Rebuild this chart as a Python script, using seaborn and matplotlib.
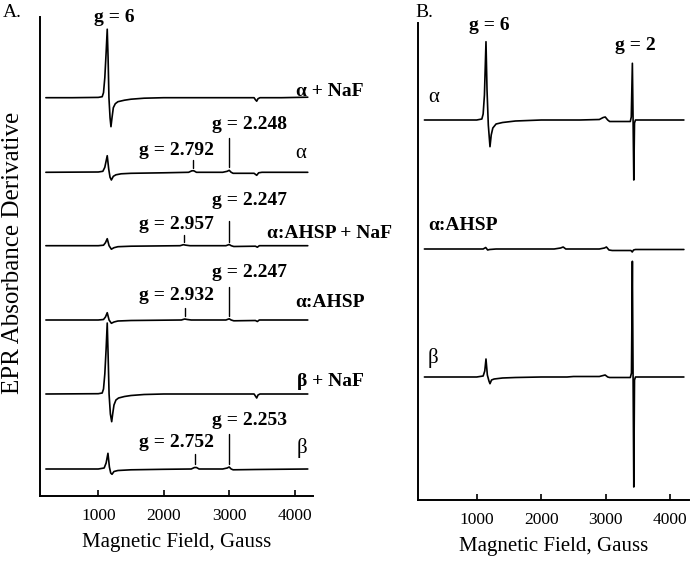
import numpy as np
import pandas as pd
import matplotlib
matplotlib.use("Agg")
import matplotlib.pyplot as plt
import seaborn as sns

# ---------------- data (field in Gauss, derivative amplitude in arbitrary units) -------------
# Panel A traces
a_names = ["α + NaF", "α", "α:AHSP + NaF", "α:AHSP", "β + NaF", "β"]

a1_field = [200, 600, 1000, 1060, 1080, 1100, 1120, 1137, 1150, 1163, 1180, 1194, 1210, 1230, 1260,
            1300, 1400, 1500, 1700, 2000, 2600, 3000, 3380, 3400, 3420, 3440, 3470, 3800, 4200]
a1_val = [0, 0, 0.3, 1, 5, 20, 45, 68.5, 40, 0, -20, -29, -20, -10, -6,
          -4, -2.5, -1.5, -0.5, 0, 0, 0, 0, -2, -3.5, -1, 0, 0, 0.5]

a2_field = [200, 1000, 1070, 1100, 1137, 1160, 1180, 1200, 1230, 1270, 1350, 1500, 2000, 2380, 2430,
            2460, 2500, 2900, 2970, 3000, 3030, 3060, 3100, 3380, 3420, 3450, 3500, 4200]
a2_val = [0, 0.3, 1, 5, 16.6, 3, -5, -7.7, -4, -2.5, -1.5, -1, -0.5, 0, 1.5,
          1.5, 0, 0, 1, 2, 0, -1, -1, -1, -3, -0.5, 0, 0]

a3_field = [200, 1000, 1080, 1110, 1137, 1165, 1200, 1240, 1300, 1500, 2250, 2300, 2340, 2400, 2950,
            3000, 3030, 3070, 3400, 3430, 3460, 4200]
a3_val = [0, 0, 0.5, 3, 7, 0, -3.5, -2, -1, -0.5, 0, 1, 0.5, 0, 0,
          1.2, 0, -0.8, -0.5, -1.5, 0, 0]

a4_field = [200, 1000, 1080, 1110, 1137, 1165, 1200, 1240, 1300, 1500, 2270, 2320, 2360, 2420, 2950,
            3000, 3030, 3070, 3400, 3430, 3460, 4200]
a4_val = [0, 0, 0.5, 3, 7.3, 0, -3.3, -2, -1, -0.5, 0, 1, 0.5, 0, 0,
          1.2, 0, -0.8, -0.5, -1.5, 0, 0]

a5_field = [200, 1000, 1060, 1080, 1100, 1120, 1137, 1150, 1165, 1185, 1205, 1220, 1240, 1270, 1310,
            1400, 1500, 1700, 2000, 3380, 3400, 3420, 3440, 3470, 4200]
a5_val = [0, 0.3, 1, 5, 20, 45, 71, 40, 0, -20, -27.7, -20, -11, -6, -4,
          -2.5, -1.5, -0.5, 0, 0, -2, -4, -1, 0, 0]

a6_field = [200, 1000, 1090, 1120, 1148, 1170, 1190, 1210, 1240, 1300, 1500, 2000, 2420, 2470, 2500,
            2540, 2900, 2970, 3000, 3030, 3060, 3400, 4200]
a6_val = [0, 0, 1, 6, 15.7, 2, -4, -5.3, -2.5, -1.5, -0.8, -0.3, 0, 1.5, 1.5,
          0, 0, 1, 2, 0, -0.8, -0.5, 0]

# Panel B traces
b_names = ["α", "α:AHSP", "β"]

b1_field = [190, 1000, 1080, 1100, 1120, 1144, 1160, 1180, 1206, 1225, 1250, 1300, 1400, 1600, 2000,
            2600, 2900, 2960, 2992, 3030, 3060, 3380, 3395, 3412, 3423, 3434, 3445, 3460, 3600, 4210]
b1_val = [0, 0, 1, 6, 25, 78.3, 30, -5, -26.7, -15, -8, -4, -2.5, -1, 0,
          0, 0.5, 2.5, 3, 0, -1.5, -1.5, 3, 56.7, 0, -60, -3, 0, 0, 0]

b2_field = [190, 1100, 1140, 1170, 1200, 1300, 2200, 2300, 2340, 2380, 2450, 2900, 2980, 3010, 3050,
            3100, 3390, 3410, 3430, 3460, 4210]
b2_val = [0, 0, 1.5, -1, -0.5, 0, 0, 1, 2, 0, 0, 0, 1, 2, -1,
          -1.5, -1.5, -3, -1, -0.5, -0.5]

b3_field = [190, 1000, 1100, 1125, 1144, 1165, 1190, 1206, 1230, 1270, 1400, 1600, 2000, 2400, 2500,
            2900, 2990, 3030, 3060, 3380, 3398, 3412, 3423, 3434, 3445, 3460, 3600, 4210]
b3_val = [0, 0, 1, 6, 18, 2, -4, -6.7, -3, -2, -1, -0.5, 0, 0, 0.5,
          0.5, 2, 0, -0.5, -0.5, 4, 115.7, 0, -110, -3, 0, 0, 0]

# g-value annotations (label, field position)
a_gmarks = [
    [("g = 2.792", 2451), ("g = 2.248", 3001)],
    [("g = 2.957", 2314), ("g = 2.247", 3001)],
    [("g = 2.932", 2329), ("g = 2.247", 3001)],
    [("g = 2.752", 2482), ("g = 2.253", 3001)],
]

# ---------------- layout (pixel-based) ----------------
W, H = 693, 562
sns.set_theme(style="ticks")
plt.rcParams["font.family"] = ["Liberation Serif", "DejaVu Serif"]
plt.rcParams["mathtext.fontset"] = "stix"

fig = plt.figure(figsize=(W / 100, H / 100), dpi=100)


def add_axes(left, right, top, bottom):
    return fig.add_axes([left / W, 1 - bottom / H, (right - left) / W, (bottom - top) / H])


axA = add_axes(40, 313, 17, 496)
axB = add_axes(417.7, 689.3, 23, 500)
A_BOTTOM, B_BOTTOM = 496, 500

a_fields = [a1_field, a2_field, a3_field, a4_field, a5_field, a6_field]
a_vals = [a1_val, a2_val, a3_val, a4_val, a5_val, a6_val]
a_base_px = [97.7, 172.3, 245.7, 320, 394, 469]

b_fields = [b1_field, b2_field, b3_field]
b_vals = [b1_val, b2_val, b3_val]
b_base_px = [120, 249, 377]

rows = []
for name, f, v, bp in zip(a_names, a_fields, a_vals, a_base_px):
    for fi, vi in zip(f, v):
        rows.append(dict(panel="A", trace=name, field=fi, y=(A_BOTTOM - bp) + vi))
for name, f, v, bp in zip(b_names, b_fields, b_vals, b_base_px):
    for fi, vi in zip(f, v):
        rows.append(dict(panel="B", trace="B " + name, field=fi, y=(B_BOTTOM - bp) + vi))
df = pd.DataFrame(rows)

for ax, panel in ((axA, "A"), (axB, "B")):
    sub = df[df.panel == panel]
    sns.lineplot(data=sub, x="field", y="y", units="trace", estimator=None, sort=False,
                 color="black", linewidth=1.2, ax=ax, legend=False)

axA.set_xlim(110, 4280)
axA.set_ylim(0, 479)
axB.set_xlim(86, 4294)
axB.set_ylim(0, 477)

for ax in (axA, axB):
    sns.despine(ax=ax)
    ax.spines["left"].set_linewidth(1.4)
    ax.spines["bottom"].set_linewidth(1.4)
    ax.spines["left"].set_color("black")
    ax.spines["bottom"].set_color("black")
    ax.set_yticks([])
    ax.set_xticks([1000, 2000, 3000, 4000])
    ax.tick_params(axis="x", direction="in", length=4, width=1.2, pad=9,
                   labelsize=12.5, colors="black")
    ax.set_xlabel("Magnetic Field, Gauss", fontsize=15, labelpad=6, color="black")
    ax.set_ylabel("")
    ax.set_facecolor("white")

# g markers (vertical bars) in panel A
a_mark_px = [
    [(160, 168), (137.7, 166.7)],
    [(235, 242), (220.7, 241.7)],
    [(308.3, 316), (286.7, 316)],
    [(454.3, 464), (434, 464)],
]
for marks, pxs in zip(a_gmarks, a_mark_px):
    for (lab, f), (p0, p1) in zip(marks, pxs):
        axA.plot([f, f], [A_BOTTOM - p1, A_BOTTOM - p0], color="black", lw=1.0)


def ftext(x, y, s, **kw):
    fig.text(x / W, 1 - y / H, s, **kw)


bold = dict(fontsize=14, fontweight="bold", color="black")
# g labels panel A
a_glab_pos = [
    [(176.7, 155), (249.5, 129.3)],
    [(176.7, 229), (249.5, 205)],
    [(176.7, 300), (249.5, 276.7)],
    [(176.7, 447), (249.5, 425)],
]
for marks, poss in zip(a_gmarks, a_glab_pos):
    for (lab, f), (x, y) in zip(marks, poss):
        ftext(x, y, lab, ha="center", va="baseline", **bold)

ftext(114, 21.7, "g = 6", ha="center", va="baseline", **bold)
ftext(489, 30, "g = 6", ha="center", va="baseline", **bold)
ftext(635, 50, "g = 2", ha="center", va="baseline", **bold)

# trace labels
a_lab_pos = [(296, 96), (295, 158), (267.3, 238.3), (295, 306.7), (296.7, 386), (296.7, 453)]
for name, (x, y) in zip(a_names, a_lab_pos):
    if name in ("α", "β"):
        ftext(x, y, name, ha="left", va="baseline", fontsize=15, color="black")
    else:
        ftext(x, y, name, ha="left", va="baseline", **bold)

b_lab_pos = [(428.3, 101.7), (428.3, 230), (427.7, 363)]
for name, (x, y) in zip(b_names, b_lab_pos):
    if name in ("α", "β"):
        ftext(x, y, name, ha="left", va="baseline", fontsize=15, color="black")
    else:
        ftext(x, y, name, ha="left", va="baseline", **bold)

ftext(3, 17, "A.", ha="left", va="baseline", fontsize=14, color="black")
ftext(415, 17, "B.", ha="left", va="baseline", fontsize=14, color="black")
ftext(13, 253, "EPR Absorbance Derivative", ha="center", va="center", rotation=90,
      fontsize=18, color="black")

fig.savefig("out.png", dpi=100, facecolor="white")
